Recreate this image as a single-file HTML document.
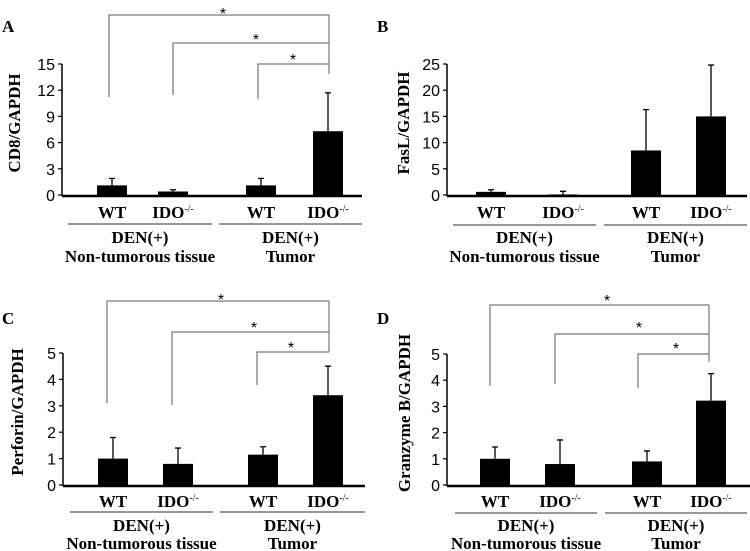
<!DOCTYPE html>
<html><head><meta charset="utf-8">
<style>
html,body{margin:0;padding:0;background:#fff;}
svg{display:block;}
.lab{font-family:"Liberation Serif",serif;font-weight:bold;font-size:17px;fill:#000;}
.tick{font-family:"Liberation Sans",sans-serif;font-size:16px;fill:#000;}
</style></head>
<body>
<svg id="fig" width="750" height="551" viewBox="0 0 750 551" xmlns="http://www.w3.org/2000/svg"></svg>
<script>
const categories = ["WT","IDO","WT","IDO"];
const cd8Values = [1.1, 0.4, 1.1, 7.3];
const cd8Errors = [1.9, 0.6, 1.9, 11.7];
const cd8Ticks = [0,3,6,9,12,15];
const faslValues = [0.6, 0.1, 8.5, 15];
const faslErrors = [1.0, 0.7, 16.3, 24.8];
const faslTicks = [0,5,10,15,20,25];
const perfValues = [1.0, 0.8, 1.15, 3.4];
const perfErrors = [1.8, 1.4, 1.45, 4.5];
const perfTicks = [0,1,2,3,4,5];
const granValues = [1.0, 0.8, 0.9, 3.22];
const granErrors = [1.45, 1.72, 1.3, 4.25];
const granTicks = [0,1,2,3,4,5];

const NS="http://www.w3.org/2000/svg";
const svg=document.getElementById('fig');
function mk(tag,attrs,parent){const e=document.createElementNS(NS,tag);for(const k in attrs)e.setAttribute(k,attrs[k]);(parent||svg).appendChild(e);return e;}

const panels=[
 {id:'a',letter:'A',lx:2,ly:32,title:'CD8/GAPDH',tx:20,ty:123,ax:62,xend:362,y0:195,ytop:64,centers:[112,173,261,328],vals:cd8Values,errs:cd8Errors,ticks:cd8Ticks,
  lines:[[68,212],[219,362]],ly1:224,wy:218,dy:243,ny:262,
  br:[{x1:109,y:15,leg:97,star:[223,19]},{x1:173,y:43,leg:95,star:[256,45]},{x1:258,y:64,leg:99,star:[293,65]}],brx:329,brBottom:74},
 {id:'b',letter:'B',lx:377,ly:32,title:'FasL/GAPDH',tx:409,ty:123,ax:447,xend:747,y0:195,ytop:64,centers:[491,563,646,711],vals:faslValues,errs:faslErrors,ticks:faslTicks,
  lines:[[453,596],[604,747]],ly1:225,wy:218,dy:243,ny:262,br:[]},
 {id:'c',letter:'C',lx:2,ly:324,title:'Perforin/GAPDH',tx:23,ty:412,ax:63,xend:365,y0:485,ytop:353,centers:[113,178,263,328],vals:perfValues,errs:perfErrors,ticks:perfTicks,
  lines:[[70,213],[220,365]],ly1:512,wy:507,dy:531,ny:549,
  br:[{x1:107,y:301,leg:403,star:[221,305]},{x1:172,y:332,leg:405,star:[254,333]},{x1:257,y:352,leg:385,star:[291,353]}],brx:329,brBottom:352},
 {id:'d',letter:'D',lx:377,ly:324,title:'Granzyme B/GAPDH',tx:410,ty:413,ax:447,xend:750,y0:485,ytop:354,centers:[495,560,647,711],vals:granValues,errs:granErrors,ticks:granTicks,
  lines:[[455,597],[605,747]],ly1:513,wy:507,dy:531,ny:549,
  br:[{x1:490,y:305,leg:386,star:[607,306]},{x1:555,y:334,leg:384,star:[639,333]},{x1:638,y:354,leg:388,star:[676,354]}],brx:709,brBottom:362}
];

panels.forEach(p=>{
  const g=mk('g',{});
  
  
  const maxT=p.ticks[p.ticks.length-1];
  const ys=v=>p.y0-(v/maxT)*(p.y0-p.ytop);
  const L=mk('text',{x:p.lx,y:p.ly,class:'lab'},g);L.textContent=p.letter;
  
  
  const T=mk('text',{x:p.tx,y:p.ty,class:'lab','text-anchor':'middle',transform:`rotate(-90 ${p.tx} ${p.ty})`},g);T.textContent=p.title;
  
  
  const ya=mk('line',{x1:p.ax,y1:p.ytop,x2:p.ax,y2:p.y0+1,stroke:'#000','stroke-width':1.5},g);
  
  
  const xa=mk('line',{x1:p.ax,y1:p.y0+1,x2:p.xend,y2:p.y0+1,stroke:'#000','stroke-width':2.5},g);
  
  
  p.ticks.forEach(t=>{
    const y=ys(t);
    mk('line',{x1:p.ax-4,y1:y,x2:p.ax,y2:y,stroke:'#000','stroke-width':1.2},g);
    const tt=mk('text',{x:p.ax-7,y:y+6,class:'tick','text-anchor':'end'},g);tt.textContent=t;
    
    
  });
  p.vals.forEach((v,i)=>{
    const cx=p.centers[i];
    const b=mk('rect',{x:cx-15,y:ys(v),width:30,height:p.y0-ys(v),fill:'#000'},g);
    
    
    const ey=ys(p.errs[i]);
    const e=mk('path',{d:`M${cx} ${ys(v)}V${ey}M${cx-3} ${ey}H${cx+3}`,stroke:'#000','stroke-width':1.3,fill:'none'},g);
    
    
    const lt=mk('text',{x:cx,y:p.wy,class:'lab','text-anchor':'middle'},g);
    
    
    if(categories[i]==='WT'){lt.textContent='WT';}
    else{lt.textContent='IDO';const s=mk('tspan',{dy:-6,'font-size':'10px','font-weight':'normal'},lt);s.textContent='-/-';}
  });
  p.lines.forEach((l,j)=>{
    const gl=mk('line',{x1:l[0],y1:p.ly1,x2:l[1],y2:p.ly1,stroke:'#777','stroke-width':1.5},g);
    
    
    const cx=(l[0]+l[1])/2;
    const d=mk('text',{x:cx,y:p.dy,class:'lab','text-anchor':'middle'},g);d.textContent='DEN(+)';
    
    
    const n=mk('text',{x:cx,y:p.ny,class:'lab','text-anchor':'middle'},g);n.textContent=j===0?'Non-tumorous tissue':'Tumor';
    
    
  });
  p.br.forEach((b,k)=>{
    const bp=mk('path',{d:`M${b.x1} ${b.leg}V${b.y}H${p.brx}`,stroke:'#777','stroke-width':1.2,fill:'none'},g);
    
    
    const st=mk('text',{x:b.star[0],y:b.star[1],class:'tick','text-anchor':'middle','font-size':'20px'},g);st.textContent='*';
    
    
  });
  if(p.br.length){
    const rv=mk('line',{x1:p.brx,y1:p.br[0].y,x2:p.brx,y2:p.brBottom,stroke:'#777','stroke-width':1.2},g);
    
    
  }
});
</script>
</body></html>
